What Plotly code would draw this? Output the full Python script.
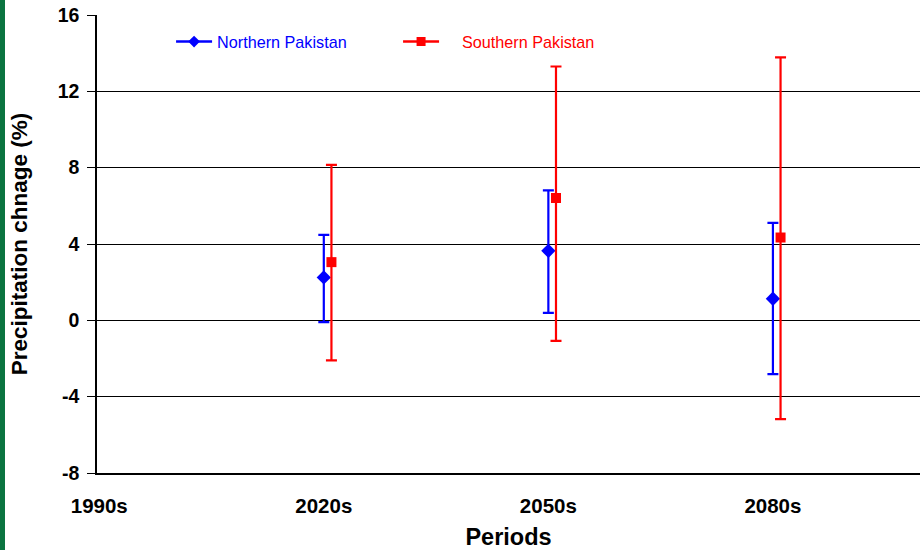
import plotly.graph_objects as go

categories = ["1990s", "2020s", "2050s", "2080s"]
periods = ["2020s", "2050s", "2080s"]

north_mean = [2.25, 3.64, 1.13]
north_upper = [4.48, 6.81, 5.11]
north_lower = [-0.09, 0.39, -2.82]

south_mean = [3.05, 6.41, 4.34]
south_upper = [8.15, 13.3, 13.78]
south_lower = [-2.1, -1.08, -5.18]

y_ticks = [-8, -4, 0, 4, 8, 12, 16]
y_tick_labels = ["-8", "-4", "0", "4", "8", "12", "16"]

BLUE = "#0000FF"
RED = "#FF0000"

n_plus = [u - m for u, m in zip(north_upper, north_mean)]
n_minus = [m - l for m, l in zip(north_mean, north_lower)]
s_plus = [u - m for u, m in zip(south_upper, south_mean)]
s_minus = [m - l for m, l in zip(south_mean, south_lower)]

fig = go.Figure()

fig.add_trace(go.Scatter(
    x=periods, y=north_mean, mode="markers", showlegend=False,
    marker=dict(symbol="diamond", size=11, color=BLUE),
    error_y=dict(type="data", symmetric=False, array=n_plus, arrayminus=n_minus,
                 color=BLUE, thickness=2.2, width=5.5),
    xaxis="x", yaxis="y",
))
fig.add_trace(go.Scatter(
    x=periods, y=south_mean, mode="markers", showlegend=False,
    marker=dict(symbol="square", size=10, color=RED),
    error_y=dict(type="data", symmetric=False, array=s_plus, arrayminus=s_minus,
                 color=RED, thickness=2.2, width=5.5),
    xaxis="x2", yaxis="y",
))

# legend entries
fig.add_trace(go.Scatter(
    x=[None], y=[None], mode="lines+markers",
    name="<span style='color:#0000FF'>Northern Pakistan</span>",
    line=dict(color=BLUE, width=2.5),
    marker=dict(symbol="diamond", size=9, color=BLUE),
))
fig.add_trace(go.Scatter(
    x=[None], y=[None], mode="lines+markers",
    name="<span style='color:#FF0000'>\u00a0\u00a0\u00a0\u00a0Southern Pakistan</span>",
    line=dict(color=RED, width=2.5),
    marker=dict(symbol="square", size=9, color=RED),
))

x_range = [-0.01, 3.655]
shift = 0.034

fig.update_layout(
    width=920, height=550,
    margin=dict(l=97, r=0, t=15, b=77),
    paper_bgcolor="white", plot_bgcolor="white",
    font=dict(family="Liberation Sans, Arial, sans-serif", color="black"),
    xaxis=dict(
        type="category", categoryorder="array", categoryarray=categories,
        range=x_range, showgrid=False, zeroline=False,
        showline=True, linecolor="black", linewidth=1.5,
        ticks="", ticklabelstandoff=14,
        tickfont=dict(size=20.5, family="Liberation Sans, Arial", color="black", weight="bold"),
        title=dict(text="<b>Periods</b>", font=dict(size=23.5), standoff=14),
    ),
    xaxis2=dict(
        type="category", categoryorder="array", categoryarray=categories,
        range=[x_range[0] - shift, x_range[1] - shift], overlaying="x",
        visible=False,
    ),
    yaxis=dict(
        range=[-8, 16], tickvals=y_ticks, ticktext=y_tick_labels,
        showgrid=True, gridcolor="#000000", gridwidth=1,
        zeroline=False, showline=True, linecolor="black", linewidth=1.5,
        ticks="outside", ticklen=8, tickcolor="black", tickwidth=1,
        ticklabelstandoff=4,
        tickfont=dict(size=19.5, family="Liberation Sans, Arial", color="black", weight="bold"),
        title=dict(text="<b>Precipitation chnage (%)</b>", font=dict(size=22.5), standoff=24),
    ),
    legend=dict(
        orientation="h", x=0.09, y=0.941, xanchor="left", yanchor="middle",
        bgcolor="rgba(0,0,0,0)", font=dict(size=16.2, family="Liberation Sans, Arial"),
        itemwidth=36, entrywidth=176, tracegroupgap=0,
    ),
    shapes=[dict(type="rect", xref="paper", yref="paper",
                 x0=-97 / 823, x1=-92 / 823, y0=-77 / 458, y1=(458 + 15) / 458,
                 fillcolor="#0b7440", line=dict(width=0), layer="above")],
)

fig.write_html("out.html", post_script="document.body.style.margin='0';",
               config={"displayModeBar": False})
